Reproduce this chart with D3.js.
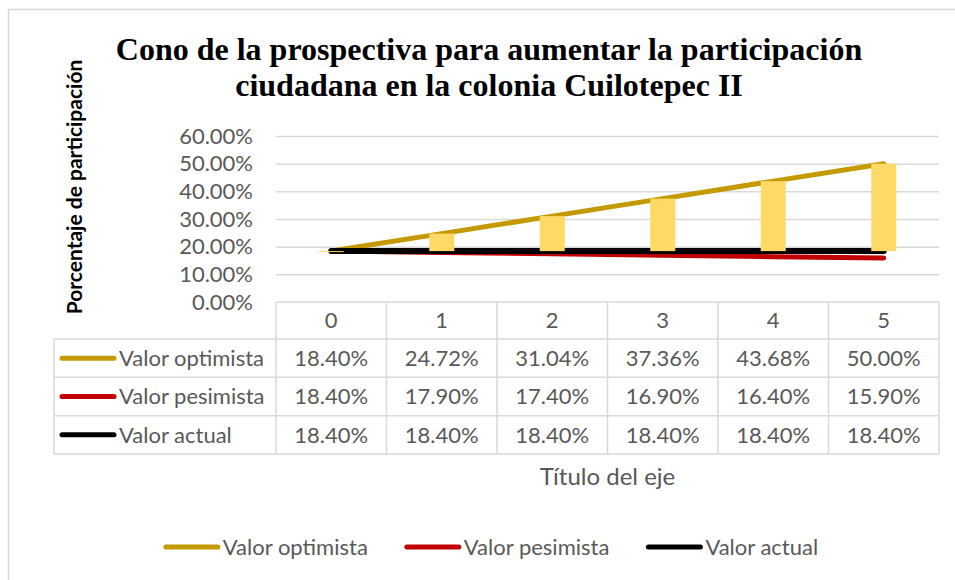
<!DOCTYPE html>
<html>
<head>
<meta charset="utf-8">
<script src="https://cdn.jsdelivr.net/npm/d3@7"></script>
<style>
  body { margin: 0; background: #fff; }
  text { font-family: Lato, "Open Sans", sans-serif; }
</style>
</head>
<body>
<div id="chart"></div>
<script>
const categories = ["0", "1", "2", "3", "4", "5"];
const seriesNames = ["Valor optimista", "Valor pesimista", "Valor actual"];
const optimista = [0.1840, 0.2472, 0.3104, 0.3736, 0.4368, 0.5000];
const pesimista = [0.1840, 0.1790, 0.1740, 0.1690, 0.1640, 0.1590];
const actual = [0.1840, 0.1840, 0.1840, 0.1840, 0.1840, 0.1840];
const yTicks = [0, 0.1, 0.2, 0.3, 0.4, 0.5, 0.6];
const colors = ["#C49A00", "#C00000", "#000000"];
const lineWidths = [5, 5, 6];

const W = 955, H = 580;
const plot = {left: 276, right: 939, top: 136, bottom: 302};
const table = {left: 54, headBottom: 339, bottom: 454};
const textColor = "#595959";
const gridColor = "#d9d9d9";
const pct = d3.format(".2%");

const svg = d3.select('#chart')
  .append('svg')
    .attr('width', W)
    .attr('height', H);

// chart border (only top/left visible in the reference)
svg.append('rect')
  .attr('x', 8.5).attr('y', 9.5)
  .attr('width', W + 10).attr('height', H + 10)
  .attr('fill', 'none')
  .attr('stroke', gridColor)
  .attr('stroke-width', 1.5);

// title
const title = svg.append('text')
  .attr('text-anchor', 'middle')
  .style('font-family', '"Liberation Serif", "Times New Roman", serif')
  .attr('font-weight', 'bold')
  .attr('font-size', 32)
  .attr('fill', '#000');
title.append('tspan').attr('x', 489).attr('y', 60)
  .text('Cono de la prospectiva para aumentar la participación');
title.append('tspan').attr('x', 489).attr('y', 96)
  .text('ciudadana en la colonia Cuilotepec II');

// y axis title
svg.append('text')
  .attr('transform', 'translate(82,187) rotate(-90)')
  .attr('text-anchor', 'middle')
  .attr('font-weight', 'bold')
  .attr('font-size', 21)
  .attr('fill', '#000')
  .text('Porcentaje de participación');

const x = d3.scaleBand()
  .domain(categories)
  .range([plot.left, plot.right]);
const cx = c => x(c) + x.bandwidth() / 2;

const y = d3.scaleLinear()
  .domain([0, 0.6])
  .range([plot.bottom, plot.top]);

// gridlines
const grid = svg.append('g')
  .attr('transform', `translate(${plot.left},0)`)
  .call(d3.axisLeft(y).tickValues(yTicks.slice(1)).tickSize(-(plot.right - plot.left)).tickFormat(''));
grid.select('.domain').remove();
grid.selectAll('line').attr('stroke', gridColor).attr('stroke-width', 1.5);

// y tick labels
const yAxis = svg.append('g')
  .attr('transform', `translate(${plot.left},0)`)
  .call(d3.axisLeft(y).tickValues(yTicks).tickSize(0).tickPadding(23).tickFormat(pct));
yAxis.select('.domain').remove();
yAxis.selectAll('text')
  .attr('font-size', 22)
  .attr('fill', textColor)
  .style('font-family', 'Lato, sans-serif');

// lines
const seriesData = [optimista, pesimista, actual];
const line = d3.line()
  .x((d, i) => cx(categories[i]))
  .y(d => y(d));
[1, 0, 2].forEach(k => {
  svg.append('path')
    .datum(seriesData[k])
    .attr('d', line)
    .attr('fill', 'none')
    .attr('stroke', colors[k])
    .attr('stroke-width', lineWidths[k])
    .attr('stroke-linecap', 'round');
});

// up bars between optimista and actual
const barW = 25;
svg.append('g').selectAll('rect')
  .data(categories)
  .join('rect')
    .attr('x', c => cx(c) - barW / 2)
    .attr('y', (c, i) => y(optimista[i]))
    .attr('width', barW)
    .attr('height', (c, i) => Math.max(1, y(actual[i]) - y(optimista[i])))
    .attr('fill', '#FFD966');

// data table
const rows = d3.scaleBand()
  .domain(seriesNames)
  .range([table.headBottom, table.bottom]);

const tbl = svg.append('g')
  .attr('stroke', gridColor)
  .attr('stroke-width', 1.5);
// horizontal lines
tbl.append('line')
  .attr('x1', plot.left).attr('x2', plot.right)
  .attr('y1', plot.bottom).attr('y2', plot.bottom);
seriesNames.forEach(s => {
  tbl.append('line')
    .attr('x1', table.left).attr('x2', plot.right)
    .attr('y1', rows(s)).attr('y2', rows(s));
});
tbl.append('line')
  .attr('x1', table.left).attr('x2', plot.right)
  .attr('y1', table.bottom).attr('y2', table.bottom);
// vertical lines
tbl.append('line')
  .attr('x1', table.left).attr('x2', table.left)
  .attr('y1', table.headBottom).attr('y2', table.bottom);
categories.concat(['end']).forEach((c, i) => {
  const xx = i < categories.length ? x(c) : plot.right;
  tbl.append('line')
    .attr('x1', xx).attr('x2', xx)
    .attr('y1', plot.bottom).attr('y2', table.bottom);
});

// header
svg.append('g').selectAll('text')
  .data(categories)
  .join('text')
    .attr('x', c => cx(c))
    .attr('y', (plot.bottom + table.headBottom) / 2)
    .attr('dy', '0.35em')
    .attr('text-anchor', 'middle')
    .attr('font-size', 22)
    .attr('fill', textColor)
    .text(c => c);

// rows
seriesNames.forEach((s, k) => {
  const ry = rows(s) + rows.bandwidth() / 2;
  svg.append('line')
    .attr('x1', 62).attr('x2', 114)
    .attr('y1', ry).attr('y2', ry)
    .attr('stroke', colors[k])
    .attr('stroke-width', 5)
    .attr('stroke-linecap', 'round');
  svg.append('text')
    .attr('x', 119).attr('y', ry)
    .attr('dy', '0.35em')
    .attr('font-size', 22)
    .attr('fill', textColor)
    .text(s);
  svg.append('g').selectAll('text')
    .data(seriesData[k])
    .join('text')
      .attr('x', (d, i) => cx(categories[i]))
      .attr('y', ry)
      .attr('dy', '0.35em')
      .attr('text-anchor', 'middle')
      .attr('font-size', 22)
      .attr('fill', textColor)
      .text(d => pct(d));
});

// x axis title
svg.append('text')
  .attr('x', (plot.left + plot.right) / 2)
  .attr('y', 477)
  .attr('dy', '0.35em')
  .attr('text-anchor', 'middle')
  .attr('font-size', 24)
  .attr('fill', textColor)
  .text('Título del eje');

// legend
const legend = svg.append('g');
let lx = 0;
seriesNames.forEach((s, k) => {
  const item = legend.append('g').attr('transform', `translate(${lx},0)`);
  item.append('line')
    .attr('x1', 2).attr('x2', 54)
    .attr('y1', 0).attr('y2', 0)
    .attr('stroke', colors[k])
    .attr('stroke-width', 5)
    .attr('stroke-linecap', 'round');
  const t = item.append('text')
    .attr('x', 59).attr('dy', '0.35em')
    .attr('font-size', 22)
    .attr('fill', textColor)
    .text(s);
  lx += 59 + t.node().getComputedTextLength() + 37;
});
const legW = lx - 37;
legend.attr('transform', `translate(${491 - legW / 2},547)`);
</script>
</body>
</html>
